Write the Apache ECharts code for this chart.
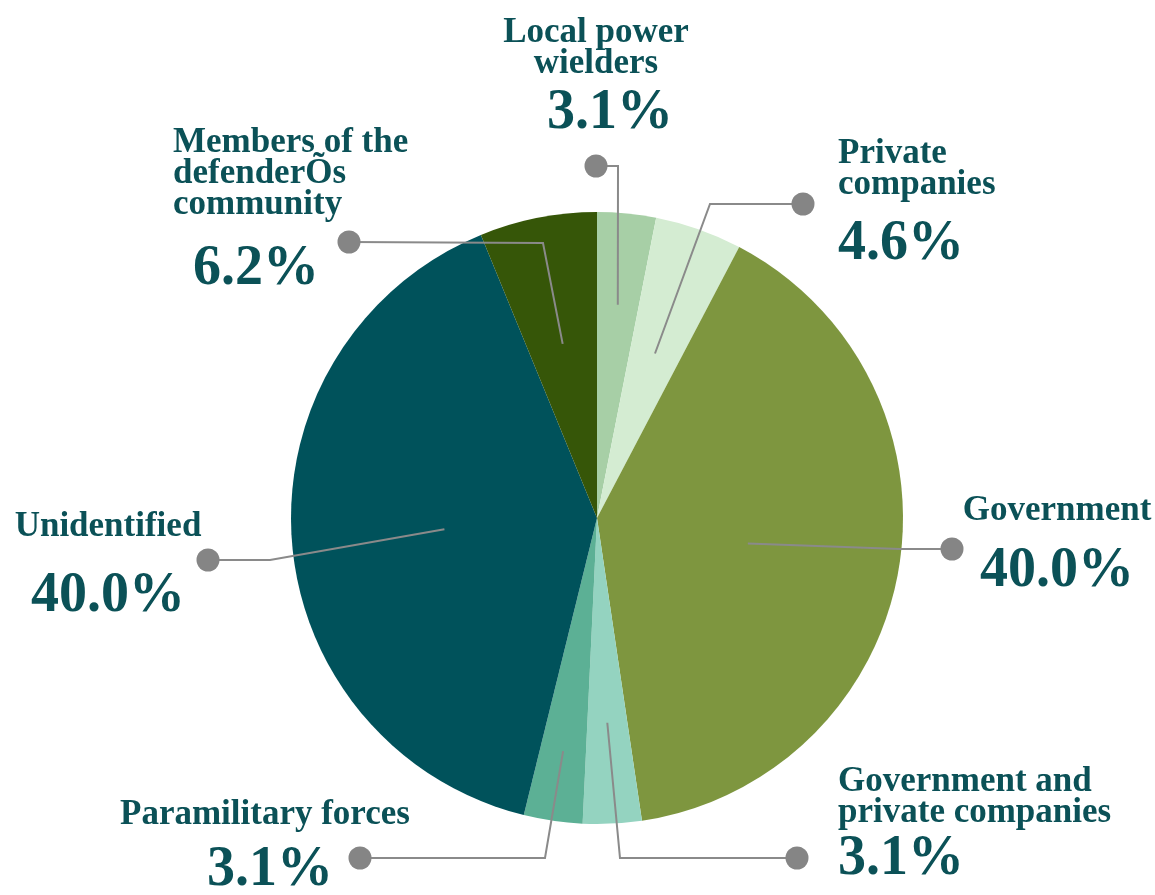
<!DOCTYPE html>
<html>
<head>
<meta charset="utf-8">
<script src="https://cdn.jsdelivr.net/npm/echarts@6/dist/echarts.min.js"></script>
<style>
html,body{margin:0;padding:0;background:#fff;}
#chart{width:1155px;height:895px;}
</style>
</head>
<body>
<div id="chart"></div>
<script>
// ---- data ----
const categories = [
  'Local power\nwielders',
  'Private\ncompanies',
  'Government',
  'Government and\nprivate companies',
  'Paramilitary forces',
  'Unidentified',
  'Members of the\ndefenderÕs\ncommunity'
];
const values = [3.1, 4.6, 40.0, 3.1, 3.1, 40.0, 6.2];
const colors = ['#a7cfa6', '#d4ecd2', '#7e963f', '#94d3c0', '#5cb095', '#00525b', '#365608'];

// ---- layout (label anchors, leader-line corners, dots) ----
const CX = 597, CY = 518, R = 306;
const labelX = [596, 838, 1057, 838, 265, 108, 173];
const labelY = [17, 138, 495, 766, 799, 511, 127];
const labelAlign = ['center', 'left', 'center', 'left', 'center', 'center', 'left'];
const pctLH = [70, 90, 92, 64, 82, 110, 100];
const pctPad = [[0, 0, 0, 28], [0, 0, 0, 0], [0, 0, 0, 0], [0, 0, 0, 0], [0, 0, 0, 10], [0, 0, 0, 0], [0, 0, 0, 20]];
const startFrac = [0.70, 0.57, 0.50, 0.67, 0.77, 0.50, 0.58];
const corner = [[618, 166], [710, 204], [900, 549], [620, 858], [545, 858], [270, 560], [543, 243]];
const dots = [[596, 166], [803, 204], [952, 549], [797, 858], [360, 858], [208, 560], [349, 242]];

const total = values.reduce((a, b) => a + b, 0);
const startPts = [];
let acc = 0;
values.forEach((v, i) => {
  const a = (acc + v / 2) / total * 2 * Math.PI;
  const r = R * startFrac[i];
  startPts.push([CX + r * Math.sin(a), CY - r * Math.cos(a)]);
  acc += v;
});

const TEXT = '#0b5157';
const data = categories.map((c, i) => ({
  name: c,
  value: values[i],
  itemStyle: { color: colors[i] },
  label: {
    formatter: '{n|' + c.split('\n').join('}\n{n|') + '}\n{p|' + values[i].toFixed(1) + '%}',
    rich: {
      n: { fontFamily: 'Liberation Serif', fontWeight: 'bold', fontSize: 35, lineHeight: 31, color: TEXT, align: labelAlign[i] },
      p: { fontFamily: 'Liberation Serif', fontWeight: 'bold', fontSize: 56, lineHeight: pctLH[i], color: TEXT,
           align: labelAlign[i], padding: pctPad[i] }
    }
  }
}));

const chart = echarts.init(document.getElementById('chart'), null, { renderer: 'canvas' });
chart.setOption({
  backgroundColor: '#ffffff',
  animation: false,
  series: [{
    type: 'pie',
    center: [CX, CY],
    radius: R,
    startAngle: 90,
    clockwise: true,
    data: data,
    label: { show: true, position: 'outside' },
    labelLine: { show: false },
    labelLayout: function (params) {
      const i = params.dataIndex;
      return { x: labelX[i], y: labelY[i], align: labelAlign[i], verticalAlign: 'top' };
    }
  }],
  graphic: [].concat(
    startPts.map((s, i) => ({
      type: 'polyline', z: 90,
      shape: { points: [s, corner[i], dots[i]] },
      style: { stroke: '#8a8a8a', lineWidth: 2, fill: null }
    })),
    dots.map(d => ({
      type: 'circle', z: 100, shape: { cx: d[0], cy: d[1], r: 11.5 }, style: { fill: '#858585' }
    }))
  )
});
</script>
</body>
</html>
